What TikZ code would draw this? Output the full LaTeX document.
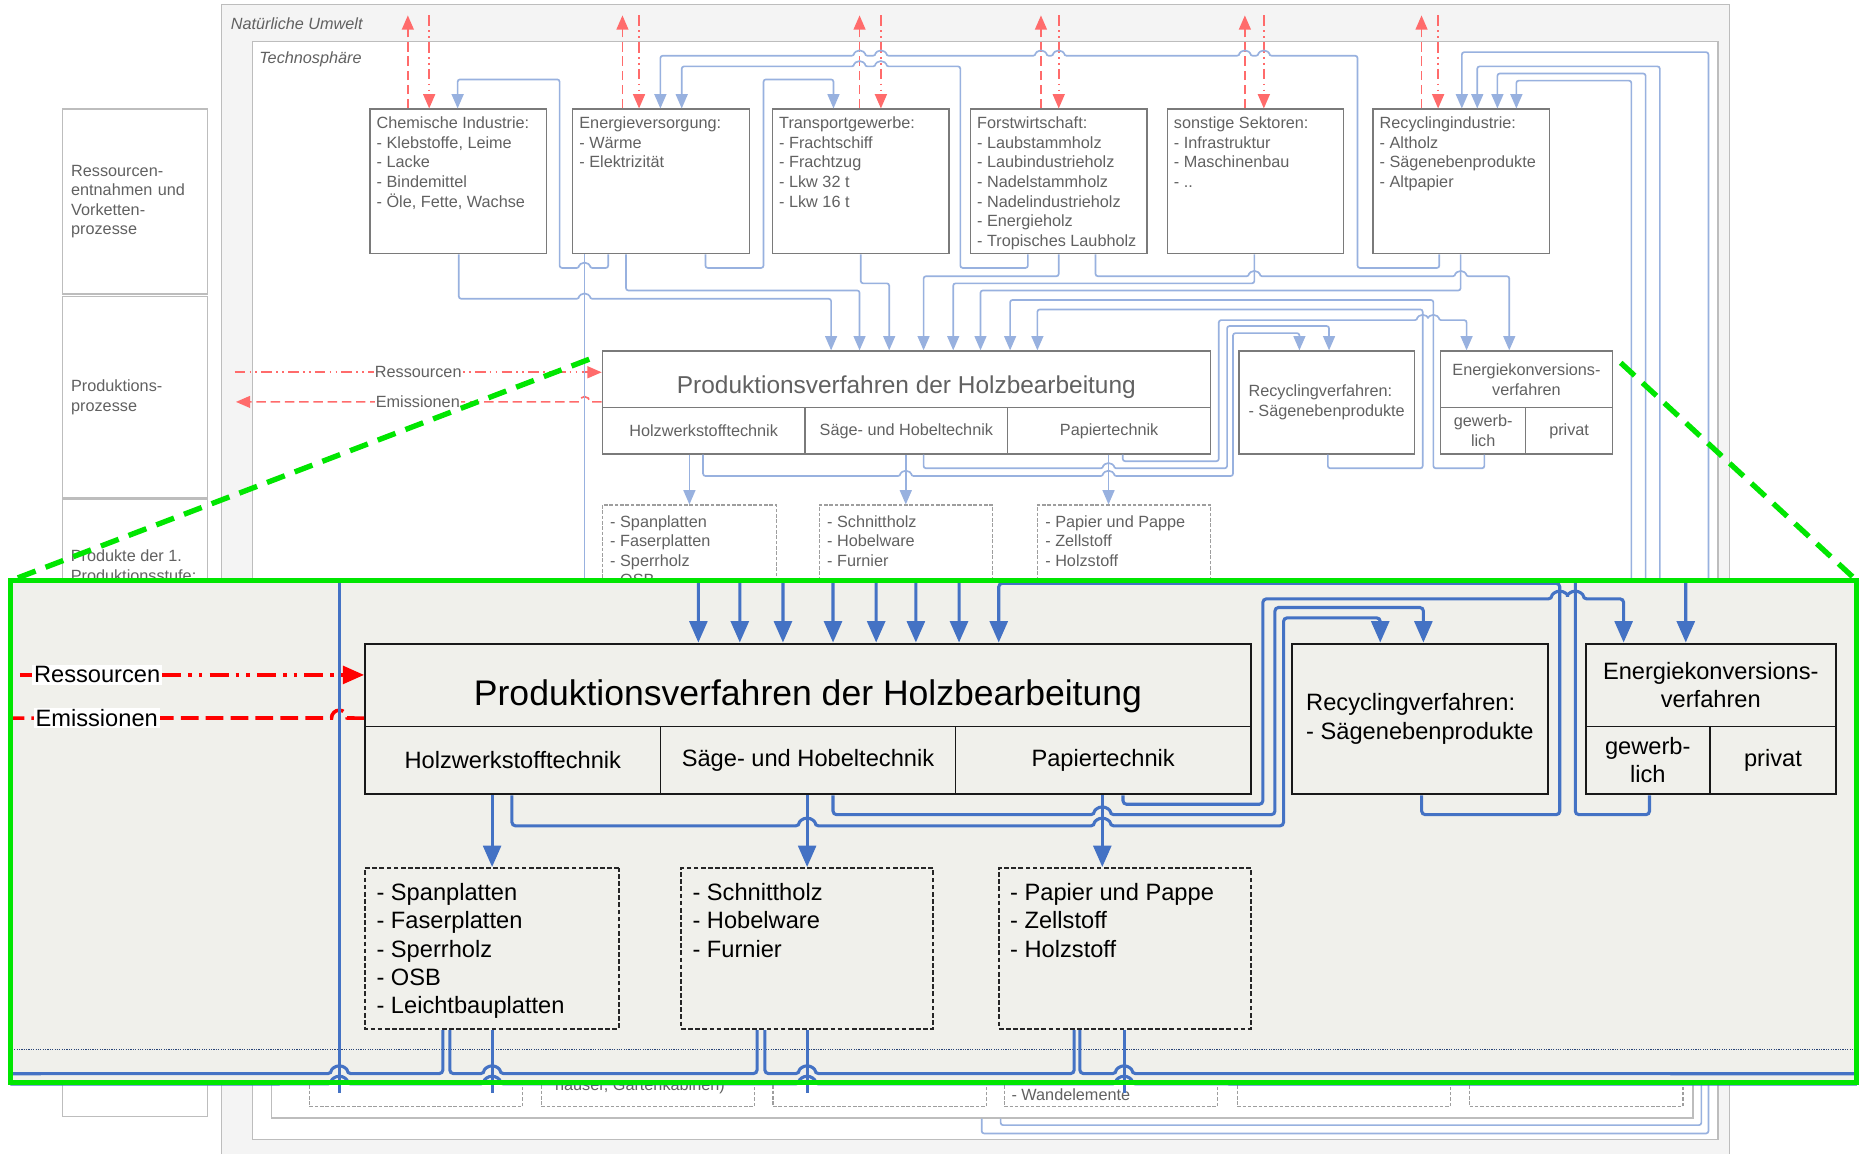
\documentclass[tikz,border=0pt]{standalone}
\usepackage{fontspec}
\setmainfont{Liberation Sans}
\usetikzlibrary{arrows.meta}

\definecolor{rahmengrau}{HTML}{BDBDBD}
\definecolor{umweltgrau}{HTML}{F4F4F4}
\definecolor{zoomgruen}{HTML}{00E600}
\definecolor{zoomgrund}{HTML}{F0F0EB}
\definecolor{lupenblau}{HTML}{4472C4}
\colorlet{textc}{black!62}
\colorlet{linec}{black!52}
\colorlet{strichc}{black!38}
\colorlet{flowc}{lupenblau!55}
\colorlet{redc}{red!58}
\colorlet{boxfill}{white}

\newcommand\grundschrift{\fontsize{13.7}{16.5}\selectfont}
\newcommand\titelschrift{\fontsize{20.6}{24}\selectfont}
% Linienspruenge
\newcommand\jr[2]{-- ({#1-4.5},#2) arc[start angle=180,end angle=360,radius=4.5]}
\newcommand\jl[2]{-- ({#1+4.5},#2) arc[start angle=0,end angle=-180,radius=4.5]}

\tikzset{
  boxline/.style={line width=1pt},
  flowline/.style={line width=1.4pt, rounded corners=2pt},
  redline/.style={line width=1.4pt},
  spitze/.style={-{Triangle[length=12pt,width=10pt]}},
  emisdash/.style={dash pattern=on 8pt off 4pt},
  ressdash/.style={dash pattern=on 9pt off 3.5pt on 1.5pt off 3.5pt on 1.5pt off 3.5pt},
  boxdash/.style={dash pattern=on 3pt off 1.5pt},
  sektor/.style={draw=linec, boxline, fill=boxfill, minimum width=149pt, minimum height=122pt, inner sep=0pt},
  listtext/.style={anchor=north west, align=left, inner xsep=6pt, inner ysep=7pt, text=textc, font=\grundschrift},
  procbox/.style={draw=linec, boxline, fill=boxfill, inner sep=2pt, text=textc, font=\grundschrift, align=center},
  outbox/.style={draw=strichc, boxline, boxdash, fill=boxfill, inner sep=0pt},
  rahmen/.style={draw=rahmengrau, line width=1pt, inner sep=0pt},
  rahmentext/.style={anchor=north west, text=textc, font=\grundschrift\itshape},
  stagebox/.style={rahmen, fill=white, text=textc, font=\grundschrift, align=left, inner xsep=7pt},
  flow/.style={draw=flowc, flowline},
  flowto/.style={flow, spitze},
  emis/.style={draw=redc, redline, emisdash, spitze},
  ress/.style={draw=redc, redline, ressdash, spitze},
  flowlabel/.style={fill=white, text=textc, font=\grundschrift, inner sep=1pt},
  stageline/.style={draw=lupenblau!60!black, line width=1pt, dash pattern=on 1pt off 1pt},
  lupe/.style={fill=zoomgrund, inner sep=0pt, minimum width=1557pt, minimum height=423pt},
  lupenrand/.style={draw=zoomgruen, line width=4.5pt},
  lupenstrahl/.style={lupenrand, dash pattern=on 16pt off 9pt}
}

\newcommand\holzdiagramm{%
  % Vorkettenprozesse
  \node[sektor, label={[listtext]north west:{Chemische Industrie:\\- Klebstoffe, Leime\\- Lacke\\- Bindemittel\\- Öle, Fette, Wachse}}] (chem) at (386.5,153) {};
  \node[sektor, label={[listtext]north west:{Energieversorgung:\\- Wärme\\- Elektrizität}}] (energ) at (557.5,153) {};
  \node[sektor, label={[listtext]north west:{Transportgewerbe:\\- Frachtschiff\\- Frachtzug\\- Lkw 32 t\\- Lkw 16 t}}] (trans) at (726,153) {};
  \node[sektor, label={[listtext]north west:{Forstwirtschaft:\\- Laubstammholz\\- Laubindustrieholz\\- Nadelstammholz\\- Nadelindustrieholz\\- Energieholz\\- Tropisches Laubholz}}] (forst) at (893,153) {};
  \node[sektor, label={[listtext]north west:{sonstige Sektoren:\\- Infrastruktur\\- Maschinenbau\\- ..}}] (sonst) at (1059,153) {};
  \node[sektor, label={[listtext]north west:{Recyclingindustrie:\\- Altholz\\- Sägenebenprodukte\\- Altpapier}}] (recyc) at (1232.5,153) {};

  % Produktionsprozesse
  \node[procbox, minimum width=513pt, minimum height=48pt, font=\titelschrift, text height=23pt, text depth=0pt] (holz) at (764.5,320) {Produktionsverfahren der Holzbearbeitung};
  \node[procbox, minimum width=171pt, minimum height=39pt] (hwt) at (593.5,363.5) {Holzwerkstofftechnik};
  \node[procbox, minimum width=171pt, minimum height=39pt] (sht) at (764.5,363.5) {Säge- und Hobeltechnik};
  \node[procbox, minimum width=171pt, minimum height=39pt] (ppt) at (935.5,363.5) {Papiertechnik};
  \node[procbox, minimum width=148pt, minimum height=87pt, align=left] (recv) at (1119,339.5) {Recyclingverfahren:\\- Sägenebenprodukte};
  \node[procbox, minimum width=145pt, minimum height=48pt, text depth=0pt] (ekv) at (1287.5,320) {Energiekonversions-\\verfahren};
  \node[procbox, minimum width=72pt, minimum height=39pt] (gew) at (1251,363.5) {gewerb-\\lich};
  \node[procbox, minimum width=73pt, minimum height=39pt] (priv) at (1323.5,363.5) {privat};

  % Produkte der 1. Stufe
  \node[outbox, minimum width=147pt, minimum height=93pt, label={[listtext, inner xsep=7pt, inner ysep=9pt]north west:{- Spanplatten\\- Faserplatten\\- Sperrholz\\- OSB\\- Leichtbauplatten}}] (spp) at (581.5,472.5) {};
  \node[outbox, minimum width=146pt, minimum height=93pt, label={[listtext, inner xsep=7pt, inner ysep=9pt]north west:{- Schnittholz\\- Hobelware\\- Furnier}}] (snh) at (764,472.5) {};
  \node[outbox, minimum width=146pt, minimum height=93pt, label={[listtext, inner xsep=7pt, inner ysep=9pt]north west:{- Papier und Pappe\\- Zellstoff\\- Holzstoff}}] (pap) at (948,472.5) {};

  % Produkte der 2. Stufe
  \node[rahmen, minimum width=1199pt, minimum height=343pt] (stufe2) at (828.5,771.5) {};
  \foreach \n/\x in {1/351,2/546.5,3/742,4/937,5/1133.5,6/1329.5}
    \node[outbox, minimum width=180pt, minimum height=83pt] (low\n) at (\x,891.5) {};
  \node[listtext, anchor=west, inner sep=0pt] (gartentext) at (468,916) {häuser, Gartenkabinen)};
  \node[listtext, anchor=west, inner sep=0pt] (wandtext) at (853,923.6) {- Wandelemente};

  % Ressourcen und Emissionen
  \coordinate (himmel) at (0,13);
  \foreach \s/\rauf/\runter in {chem/344/362,energ/525/539,trans/725/743,forst/878/893,sonst/1050/1066,recyc/1199/1213}{
    \draw[emis] (\s.north -| \rauf,0) -- (himmel -| \rauf,0);
    \draw[ress] (himmel -| \runter,0) -- (\s.north -| \runter,0);
  }
  \coordinate (ressquelle) at (198,314);
  \coordinate (emisziel) at (199,339);
  \draw[ress] (ressquelle) -- node[flowlabel]{Ressourcen} (holz.west |- ressquelle);
  \draw[emis] (holz.west |- emisziel) \jl{493}{339} -- node[flowlabel, pos=0.47]{Emissionen} (emisziel);

  % Stofffluesse zwischen den Vorketten
  \draw[flowto] (energ.south -| 513,0) -- (513,226) \jl{493}{226} -- (472,226) -- (472,67) -- (386,67) -- (chem.north -| 386,0);
  \draw[flowto] (energ.south -| 595,0) -- (595,226) -- (644,226) -- (644,67) -- (703,67) -- (trans.north -| 703,0);
  \draw[flowto] (recyc.south -| 1214,0) -- (1214,226) -- (1145,226) -- (1145,47) \jl{1066}{47} \jl{1050}{47} \jl{893}{47} \jl{878}{47} \jl{743}{47} \jl{725}{47} -- (557,47) -- (energ.north -| 557,0);
  \draw[flowto] (forst.south -| 867,0) -- (867,226) -- (810,226) -- (810,56) \jl{743}{56} \jl{725}{56} -- (575,56) -- (energ.north -| 575,0);

  % Inputs der Holzbearbeitung
  \draw[flowto] (chem.south -| 387,0) -- (387,252) \jr{493}{252} -- (701,252) -- (holz.north -| 701,0);
  \draw[flowto] (energ.south -| 528,0) -- (528,245) -- (725,245) -- (holz.north -| 725,0);
  \draw[flowto] (trans.south -| 726,0) -- (726,239) -- (750,239) -- (holz.north -| 750,0);
  \draw[flowto] (forst.south -| 893,0) -- (893,233) -- (779,233) -- (holz.north -| 779,0);
  \draw[flowto] (sonst.south -| 1058,0) -- (1058,239) -- (804,239) -- (holz.north -| 804,0);
  \draw[flowto] (recyc.south -| 1232,0) -- (1232,245) -- (827,245) -- (holz.north -| 827,0);
  \draw[flowto] (gew.south -| 1252,0) -- (1252,395) -- (1209,395) -- (1209,253) -- (852,253) -- (holz.north -| 852,0);
  \draw[flowto] (recv.south -| 1120,0) -- (1120,395) -- (1200,395) -- (1200,261) -- (875,261) -- (holz.north -| 875,0);

  % Energiekonversion und Recycling
  \draw[flowto] (forst.south -| 924,0) -- (924,233) \jr{1058}{233} \jr{1232}{233} -- (1273,233) -- (ekv.north -| 1273,0);
  \draw[flowto] (ppt.south -| 947,0) -- (947,389) -- (1028,389) -- (1028,270) \jr{1200}{270} \jr{1209}{270} -- (1237,270) -- (ekv.north -| 1237,0);
  \draw[flowto] (sht.south -| 779,0) -- (779,395) \jr{935}{395} -- (1035,395) -- (1035,275) -- (1121,275) -- (recv.north -| 1121,0);
  \draw[flowto] (hwt.south -| 593,0) -- (593,401.5) \jr{764}{401.5} \jr{935}{401.5} -- (1040,401.5) -- (1040,281) -- (1096,281) -- (recv.north -| 1096,0);

  % Produkte
  \draw[flowto] (hwt.south -| 581.5,0) -- (spp.north -| 581.5,0);
  \draw[flowto] (sht.south -| 764,0) -- (snh.north -| 764,0);
  \draw[flowto] (ppt.south -| 935,0) -- (pap.north -| 935,0);

  % Rueckfluesse zur Recyclingindustrie
  \draw[flowto] (stufe2.south -| 828,0) -- (828,956) -- (1441,956) -- (1441,44) -- (1233,44) -- (recyc.north -| 1233,0);
  \draw[flowto] (stufe2.south -| 844,0) -- (844,949) -- (1435,949) -- (1435,880) -- (1400,880) -- (1400,56) -- (1246,56) -- (recyc.north -| 1246,0);
  \draw[flowto] (low6.north -| 1388,0) -- (1388,62) -- (1263,62) -- (recyc.north -| 1263,0);
  \draw[flowto] (low6.north -| 1376,0) -- (1376,68) -- (1279,68) -- (recyc.north -| 1279,0);

  % Uebergang zur 2. Produktionsstufe
  \draw[stageline] (225,531) -- (1440,531);
  \coordinate (kreislauf-l) at (225,545);
  \coordinate (kreislauf-r) at (1440,545);
  \coordinate (kreislauf-l2) at (225,551);
  \coordinate (kreislauf-r2) at (1440,551);
  \draw[flowto] (energ.south -| 493,0) -- (low2.north -| 493,0);
  \draw[flowto] (spp.south -| 581.5,0) -- (low2.north -| 581.5,0);
  \draw[flowto] (snh.south -| 764,0) -- (low3.north -| 764,0);
  \draw[flowto] (pap.south -| 947.6,0) -- (low4.north -| 947.6,0);
  \draw[flow] (kreislauf-l) \jr{493}{545} -- (553,545) -- (spp.south -| 553,0);
  \draw[flow] (spp.south -| 557,0) -- (557,545) \jr{581.5}{545} -- (735,545) -- (snh.south -| 735,0);
  \draw[flow] (snh.south -| 739.5,0) -- (739.5,545) \jr{764}{545} -- (918.7,545) -- (pap.south -| 918.7,0);
  \draw[flow] (pap.south -| 922,0) -- (922,545) \jr{947.6}{545} -- (kreislauf-r);
  \draw[flow] (kreislauf-l2) \jr{493}{551} \jr{581.5}{551} \jr{764}{551} \jr{947.6}{551} -- (kreislauf-r2);
}

\begin{document}
\begin{tikzpicture}[x=1pt, y=-1pt, font=\grundschrift]
  \useasboundingbox (0,0) rectangle (1568,973);
  \clip (0,0) rectangle (1568,973);
  \fill[white] (0,0) rectangle (1568,973);

  % Systemgrenzen
  \node[rahmen, fill=umweltgrau, minimum width=1272pt, minimum height=986pt,
    label={[rahmentext, inner xsep=8pt, inner ysep=11pt]north west:Natürliche Umwelt}] (umwelt) at (823,497) {};
  \node[rahmen, fill=white, minimum width=1236pt, minimum height=926pt,
    label={[rahmentext, inner xsep=6pt, inner ysep=9pt]north west:Technosphäre}] (techno) at (831,498) {};

  % Lebenszyklusphasen
  \node[stagebox, minimum width=122pt, minimum height=156pt, text width=108pt] (phase1) at (114,170) {Ressourcen-\\entnahmen und\\Vorketten-\\prozesse};
  \node[stagebox, minimum width=122pt, minimum height=170pt, text width=108pt] (phase2) at (114,335) {Produktions-\\prozesse};
  \node[stagebox, minimum width=122pt, minimum height=521pt,
    label={[listtext, inner xsep=7pt, inner ysep=43pt]north west:{Produkte der 1.\\Produktionsstufe:}}] (phase3) at (114,681.5) {};

  \holzdiagramm

  % Lupe
  \node[lupe] (lupe) at (787.5,701.5) {};
  \begin{scope}
    \clip (lupe.north west) rectangle ([yshift=-8pt]lupe.south east);
    \begin{scope}[shift={(-431.6,112)}, scale=1.456, transform shape,
        boxline/.style={line width=1.5pt},
        flowline/.style={line width=2.6pt, rounded corners=3pt},
        redline/.style={line width=3pt},
        spitze/.style={-{Triangle[length=18pt,width=15pt]}},
        emisdash/.style={dash pattern=on 15pt off 6pt},
        ressdash/.style={dash pattern=on 16pt off 6pt on 3pt off 6pt on 3pt off 6pt},
        boxdash/.style={dash pattern=on 4pt off 2pt}]
      \colorlet{textc}{black}\colorlet{linec}{black!90}\colorlet{strichc}{black!85}
      \colorlet{flowc}{lupenblau}\colorlet{redc}{red}\colorlet{boxfill}{zoomgrund}
      \holzdiagramm
    \end{scope}
  \end{scope}
  \draw[lupenrand] (lupe.north west) rectangle (lupe.south east);
  \coordinate (lupenziel-l) at (497,303);
  \coordinate (lupenziel-r) at (1367,306);
  \draw[lupenstrahl] (lupenziel-l) -- (lupe.north west);
  \draw[lupenstrahl] (lupenziel-r) -- (lupe.north east);
\end{tikzpicture}
\end{document}
